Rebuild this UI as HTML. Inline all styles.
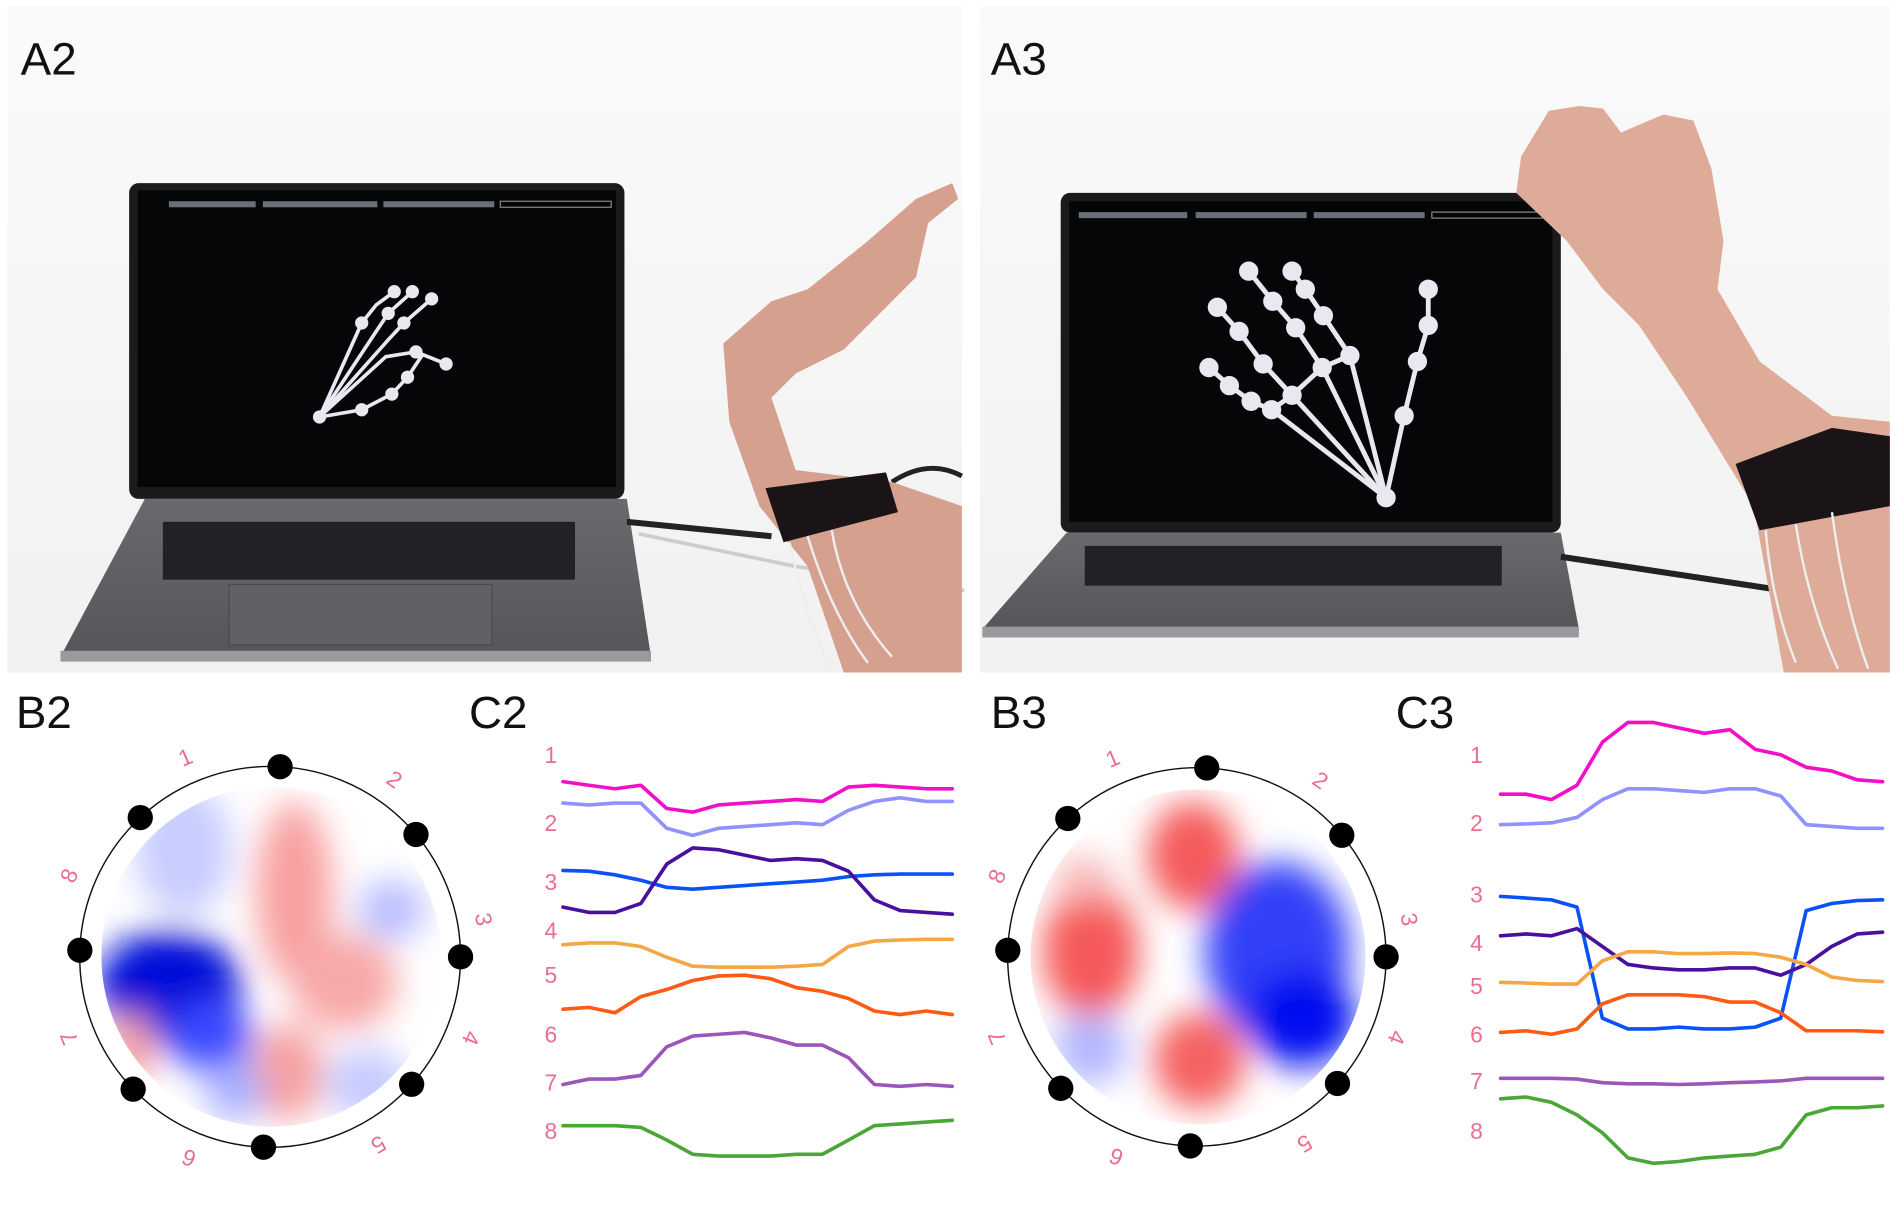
<!DOCTYPE html>
<html><head><meta charset="utf-8">
<style>
html,body{margin:0;padding:0;background:#fff;}
svg{display:block;}
.lbl{font-family:"Liberation Sans",sans-serif;font-size:38px;fill:#111;}
.num{font-family:"Liberation Sans",sans-serif;font-size:19px;fill:#ea6f8c;}
</style></head>
<body>
<svg id="fig" width="1890" height="1222" viewBox="0 0 1568 1014" xmlns="http://www.w3.org/2000/svg">
<defs>
<linearGradient id="bgA" x1="0" y1="0" x2="0" y2="1"><stop offset="0" stop-color="#fafafa"/><stop offset="1" stop-color="#f1f1f1"/></linearGradient>
<linearGradient id="baseG" x1="0" y1="0" x2="0" y2="1"><stop offset="0" stop-color="#6a6a6e"/><stop offset="1" stop-color="#55555a"/></linearGradient>
<filter id="blur" x="-30%" y="-30%" width="160%" height="160%"><feGaussianBlur stdDeviation="14"/></filter>
<clipPath id="disk2"><circle cx="225" cy="794" r="141"/></clipPath>
<clipPath id="disk3"><circle cx="994" cy="794" r="139"/></clipPath>
</defs>
<rect width="1568" height="1014" fill="#fff"/>

<!-- Photo A2 -->
<g>
<rect x="6" y="5" width="792" height="553" fill="url(#bgA)"/>
<rect x="107" y="152" width="411" height="262" rx="8" fill="#1b1b1d"/>
<rect x="114" y="158" width="397" height="246" fill="#050608"/>
<rect x="140" y="167" width="72" height="5" fill="#6b6f78"/><rect x="218" y="167" width="95" height="5" fill="#6b6f78"/><rect x="318" y="167" width="92" height="5" fill="#6b6f78"/><rect x="415" y="167" width="92" height="5" fill="none" stroke="#888" stroke-width="1"/>
<polygon points="120,414 520,414 540,545 50,545" fill="url(#baseG)"/>
<rect x="135" y="433" width="342" height="48" fill="#222226"/>
<rect x="190" y="485" width="218" height="50" fill="#606065" stroke="#4a4a4e"/>
<rect x="50" y="540" width="490" height="9" fill="#9a9a9e"/>
<path d="M520,433 L640,445" stroke="#222" stroke-width="5"/>
<path d="M530,443 L660,470 L800,490" stroke="#ccc" stroke-width="3" fill="none"/>
<path d="M740,400 Q770,380 798,395" stroke="#222" stroke-width="4" fill="none"/>
<polygon points="600,285 640,250 670,240 720,200 760,165 790,152 795,165 770,185 760,230 740,250 700,290 660,310 640,330 660,390 740,400 798,420 798,558 700,558 670,470 630,420 605,350" fill="#d6a08e"/>
<polygon points="635,405 735,392 745,425 650,450" fill="#1a1416"/>
<path d="M655,450 Q670,520 690,555 M670,445 Q690,510 720,550 M690,440 Q700,500 740,545" stroke="#eee" stroke-width="2" fill="none"/>
<g stroke="#e8e8f0" stroke-width="3" fill="#e8e8f0">
<polyline points="265,346 300,268 312,253 327,242" fill="none"/>
<polyline points="265,346 312,275 322,260 342,242" fill="none"/>
<polyline points="265,346 322,282 335,268 358,248" fill="none"/>
<polyline points="265,346 320,296 345,292 370,302" fill="none"/>
<polyline points="265,346 300,340 325,327 338,313 350,295" fill="none"/>
<circle cx="265" cy="346" r="4"/><circle cx="300" cy="268" r="4"/><circle cx="327" cy="242" r="4"/><circle cx="342" cy="242" r="4"/><circle cx="358" cy="248" r="4"/><circle cx="370" cy="302" r="4"/><circle cx="345" cy="292" r="4"/><circle cx="322" cy="260" r="4"/><circle cx="335" cy="268" r="4"/><circle cx="300" cy="340" r="4"/><circle cx="325" cy="327" r="4"/><circle cx="338" cy="313" r="4"/>
</g>
</g>
<text class="lbl" x="17" y="62">A2</text>

<!-- Photo A3 -->
<g>
<rect x="813" y="5" width="755" height="553" fill="url(#bgA)"/>
<rect x="880" y="160" width="415" height="282" rx="8" fill="#1b1b1d"/>
<rect x="887" y="167" width="401" height="266" fill="#050608"/>
<rect x="895" y="176" width="90" height="5" fill="#6b6f78"/><rect x="992" y="176" width="92" height="5" fill="#6b6f78"/><rect x="1090" y="176" width="92" height="5" fill="#6b6f78"/><rect x="1188" y="176" width="95" height="5" fill="none" stroke="#888"/>
<polygon points="885,442 1295,442 1310,522 815,522" fill="url(#baseG)"/>
<rect x="900" y="453" width="346" height="33" fill="#222226"/>
<rect x="815" y="520" width="495" height="9" fill="#9a9a9e"/>
<path d="M1295,462 L1480,490" stroke="#222" stroke-width="5"/>
<g stroke="#e8e8f0" stroke-width="4" fill="#e8e8f0">
<polyline points="1150,413 1165,345 1176,300 1185,270 1185,240" fill="none"/>
<polyline points="1150,413 1120,295 1098,262 1083,240 1072,225" fill="none"/>
<polyline points="1150,413 1097,305 1075,272 1056,250 1036,225" fill="none"/>
<polyline points="1150,413 1072,328 1048,302 1028,275 1010,255" fill="none"/>
<polyline points="1150,413 1055,340 1038,333 1020,320 1003,305" fill="none"/>
<polyline points="1120,295 1097,305 1072,328 1055,340" fill="none"/>
<circle cx="1150" cy="413" r="6"/><circle cx="1165" cy="345" r="6"/><circle cx="1176" cy="300" r="6"/><circle cx="1185" cy="270" r="6"/><circle cx="1185" cy="240" r="6"/><circle cx="1120" cy="295" r="6"/><circle cx="1098" cy="262" r="6"/><circle cx="1083" cy="240" r="6"/><circle cx="1072" cy="225" r="6"/><circle cx="1097" cy="305" r="6"/><circle cx="1075" cy="272" r="6"/><circle cx="1056" cy="250" r="6"/><circle cx="1036" cy="225" r="6"/><circle cx="1072" cy="328" r="6"/><circle cx="1048" cy="302" r="6"/><circle cx="1028" cy="275" r="6"/><circle cx="1010" cy="255" r="6"/><circle cx="1055" cy="340" r="6"/><circle cx="1038" cy="333" r="6"/><circle cx="1020" cy="320" r="6"/><circle cx="1003" cy="305" r="6"/>
</g>
<polygon points="1262,130 1285,92 1310,88 1330,90 1345,110 1380,95 1405,100 1420,140 1430,200 1425,240 1460,300 1520,345 1568,350 1568,558 1480,558 1455,420 1400,330 1360,270 1330,240 1300,200 1258,160" fill="#deab98"/>
<polygon points="1440,385 1520,355 1568,362 1568,420 1460,440" fill="#1a1416"/>
<path d="M1465,440 Q1470,500 1490,550 M1490,435 Q1500,500 1525,555 M1520,425 Q1530,500 1550,555" stroke="#eee" stroke-width="2" fill="none"/>
</g>
<text class="lbl" x="822" y="62">A3</text>

<text class="lbl" x="13" y="604">B2</text>
<text class="lbl" x="389" y="604">C2</text>
<text class="lbl" x="822" y="604">B3</text>
<text class="lbl" x="1158" y="604">C3</text>

<!-- Heatmap B2 -->
<g clip-path="url(#disk2)">
<rect x="80" y="650" width="290" height="290" fill="#fff"/>
<g filter="url(#blur)">
<ellipse cx="152" cy="705" rx="40" ry="55" fill="#c8ccff"/>
<ellipse cx="140" cy="820" rx="60" ry="48" fill="#0010d8"/>
<ellipse cx="175" cy="860" rx="35" ry="30" fill="#3a48ff"/>
<ellipse cx="244" cy="740" rx="32" ry="75" fill="#f8a0a0"/>
<ellipse cx="285" cy="815" rx="45" ry="40" fill="#f8a8a8"/>
<ellipse cx="238" cy="890" rx="30" ry="40" fill="#f6a0a0"/>
<ellipse cx="325" cy="755" rx="28" ry="25" fill="#b8bcff"/>
<ellipse cx="305" cy="900" rx="35" ry="30" fill="#c6caff"/>
<ellipse cx="195" cy="905" rx="25" ry="25" fill="#a8b0ff"/>
<ellipse cx="108" cy="870" rx="20" ry="30" fill="#f4a0a0"/>
</g>
</g>
<!-- Heatmap B3 -->
<g clip-path="url(#disk3)">
<rect x="850" y="650" width="290" height="290" fill="#fff"/>
<g filter="url(#blur)">
<ellipse cx="990" cy="710" rx="38" ry="45" fill="#f55a5a"/>
<ellipse cx="905" cy="790" rx="40" ry="55" fill="#f55858"/>
<ellipse cx="995" cy="880" rx="38" ry="40" fill="#f56060"/>
<ellipse cx="1060" cy="790" rx="60" ry="75" fill="#3040f8"/>
<ellipse cx="1080" cy="845" rx="45" ry="40" fill="#0010f0"/>
<ellipse cx="905" cy="870" rx="30" ry="30" fill="#b0b6ff"/>
<ellipse cx="900" cy="730" rx="25" ry="20" fill="#f8b8b8"/>
</g>
</g>

<g id="b2ring"></g>
<g id="b3ring"></g>
<g id="c2"></g>
<g id="c3"></g>
</svg>
<script>
const NS = "http://www.w3.org/2000/svg";
// electrode angles (deg, clockwise from top)
const electrodeAngles = [3, 50, 90, 132, 182, 226, 272, 317];
const electrodeLabels = ["1","2","3","4","5","6","7","8"];
const labelAngles = [-23, 35, 80, 112, 150, 202, 248, 292];
// channel labels
const channelNames = ["1","2","3","4","5","6","7","8"];
// channel label positions in signal units
const c2LabelPos = [265, 455, 620, 755, 880, 1045, 1180, 1315];
const c3LabelPos = [265, 455, 655, 790, 910, 1045, 1175, 1315];
const seriesColors = ["#f20fc8","#8f92ff","#0a52f5","#48109c","#f5a744","#ff5a14","#9b57b8","#4aa636"];
// C2 signal traces (16 samples each)
const c2s1 = [340,350,360,350,415,425,405,400,395,390,395,355,350,355,360,360];
const c2s2 = [400,405,400,400,470,490,470,465,460,455,460,420,395,385,395,395];
const c2s3 = [588,590,600,615,635,640,635,630,625,620,615,605,600,598,598,598];
const c2s4 = [690,705,705,680,570,525,530,545,560,555,560,590,670,700,705,710];
const c2s5 = [795,790,790,800,830,855,858,858,858,855,850,800,785,782,780,780];
const c2s6 = [975,970,985,940,920,895,882,880,890,915,925,945,980,990,980,990];
const c2s7 = [1185,1170,1170,1160,1080,1050,1045,1040,1055,1075,1075,1110,1185,1190,1185,1190];
const c2s8 = [1300,1300,1300,1305,1340,1380,1385,1385,1385,1380,1380,1340,1300,1295,1290,1285];
// C3 signal traces
const c3s1 = [375,375,390,350,230,175,175,190,205,195,250,265,300,310,335,340];
const c3s2 = [460,458,455,440,390,360,360,365,370,360,360,380,460,465,470,470];
const c3s3 = [660,665,670,690,1000,1030,1030,1025,1030,1030,1025,1000,700,680,672,670];
const c3s4 = [770,765,770,750,800,850,860,865,865,860,860,880,850,800,765,760];
const c3s5 = [900,902,905,905,840,815,815,820,820,818,820,830,850,885,895,898];
const c3s6 = [1040,1035,1045,1030,960,935,935,935,940,955,955,985,1035,1035,1035,1038];
const c3s7 = [1168,1168,1168,1170,1180,1183,1183,1185,1183,1180,1178,1175,1168,1168,1168,1168];
const c3s8 = [1225,1220,1235,1270,1320,1390,1405,1400,1390,1385,1380,1360,1270,1250,1250,1245];

function yScale(v){ return 547.5 + v/3.363; }
function xScaleC2(i,n){ return 467 + i*(790-467)/(n-1); }
function xScaleC3(i,n){ return 1245 + i*(1562-1245)/(n-1); }

function ring(g, cx, cy, r, tag){
  const c = document.createElementNS(NS,"circle");
  c.setAttribute("cx",cx); c.setAttribute("cy",cy); c.setAttribute("r",r);
  c.setAttribute("fill","none"); c.setAttribute("stroke","#111"); c.setAttribute("stroke-width","1.2");
  
  
  g.appendChild(c);
  electrodeAngles.forEach((a)=>{
    const t = a*Math.PI/180;
    const d = document.createElementNS(NS,"ellipse");
    d.setAttribute("cx", cx + r*Math.sin(t)); d.setAttribute("cy", cy - r*Math.cos(t));
    d.setAttribute("rx",10.5); d.setAttribute("ry",10.5); d.setAttribute("fill","#000");
    
    
    g.appendChild(d);
  });
  labelAngles.forEach((a,i)=>{
    const t = a*Math.PI/180, R = r+22;
    const x = cx + R*Math.sin(t), y = cy - R*Math.cos(t);
    const tx = document.createElementNS(NS,"text");
    tx.setAttribute("class","num"); tx.setAttribute("x",x); tx.setAttribute("y",y);
    tx.setAttribute("text-anchor","middle"); tx.setAttribute("dominant-baseline","central");
    tx.setAttribute("transform","rotate("+a+" "+x+" "+y+")");
    tx.textContent = electrodeLabels[i];
    
    
    g.appendChild(tx);
  });
}
ring(document.getElementById("b2ring"), 224, 794, 158);
ring(document.getElementById("b3ring"), 993, 794, 157);

function chart(g, series, xs, labelPos, labelX){
  series.forEach((s,k)=>{
    const pts = s.map((v,i)=> xs(i,s.length).toFixed(1)+","+yScale(v).toFixed(1)).join(" ");
    const p = document.createElementNS(NS,"polyline");
    p.setAttribute("points",pts); p.setAttribute("fill","none");
    p.setAttribute("stroke",seriesColors[k]); p.setAttribute("stroke-width","3");
    p.setAttribute("stroke-linejoin","round"); p.setAttribute("stroke-linecap","round");
    
    
    g.appendChild(p);
  });
  labelPos.forEach((v,k)=>{
    const t = document.createElementNS(NS,"text");
    t.setAttribute("class","num"); t.setAttribute("x",labelX); t.setAttribute("y",yScale(v));
    t.setAttribute("text-anchor","middle"); t.setAttribute("dominant-baseline","central");
    t.textContent = channelNames[k];
    
    
    g.appendChild(t);
  });
}
chart(document.getElementById("c2"), [c2s1,c2s2,c2s3,c2s4,c2s5,c2s6,c2s7,c2s8], xScaleC2, c2LabelPos, 457);
chart(document.getElementById("c3"), [c3s1,c3s2,c3s3,c3s4,c3s5,c3s6,c3s7,c3s8], xScaleC3, c3LabelPos, 1225);
</script>
</body></html>
